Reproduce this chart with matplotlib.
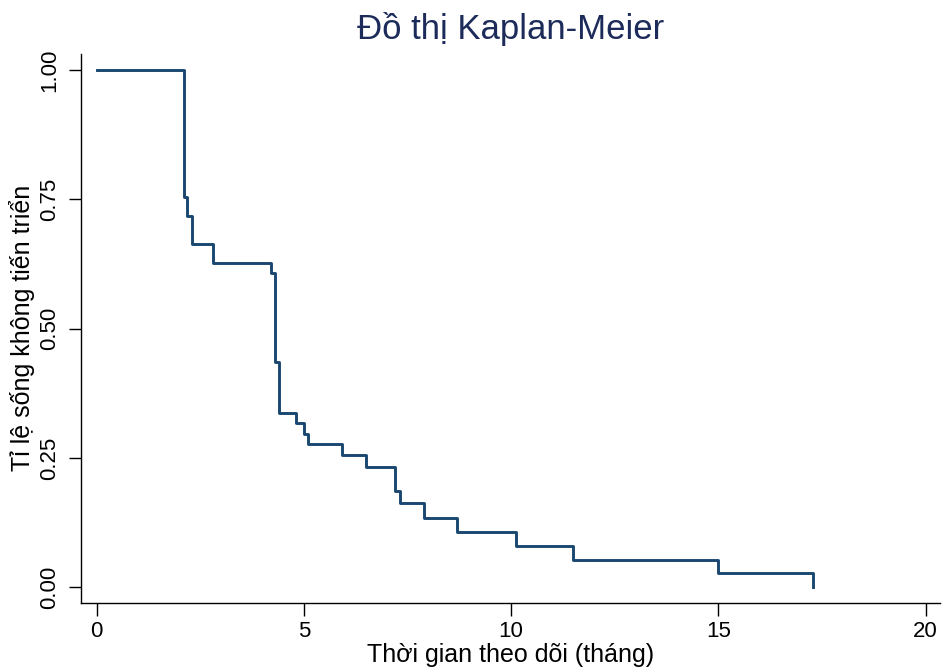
import matplotlib.pyplot as plt

plt.rcParams['font.family'] = ['Liberation Sans', 'DejaVu Sans']

# thoi gian (thang) va ti le song khong tien trien, doc tu hinh
times = [0, 2.11, 2.19, 2.30, 2.82, 4.20, 4.30, 4.40, 4.81, 5.01, 5.11,
         5.91, 6.51, 7.21, 7.31, 7.90, 8.70, 10.11, 11.50, 15.00, 17.29]
surv = [1.0, 0.755, 0.718, 0.663, 0.626, 0.607, 0.436, 0.3375, 0.317, 0.297, 0.277,
        0.255, 0.232, 0.185, 0.162, 0.1345, 0.1075, 0.080, 0.053, 0.0276, 0.0]

xticks = [0, 5, 10, 15, 20]
yticks = [0.0, 0.25, 0.50, 0.75, 1.0]
yticklabels = ['0.00', '0.25', '0.50', '0.75', '1.00']

fig = plt.figure(figsize=(9.42, 6.68), dpi=100)
ax = fig.add_axes([0.086, 0.098, 0.912, 0.821])

ax.step(times, surv, where='post', color='#1a476f', linewidth=2.1)

ax.set_xlim(-0.374, 20.35)
ax.set_ylim(-0.0298, 1.031)
ax.set_xticks(xticks)
ax.set_yticks(yticks)
ax.set_yticklabels(yticklabels, rotation=90, va='center')

ax.spines['top'].set_visible(False)
ax.spines['right'].set_visible(False)
for s in ['left', 'bottom']:
    ax.spines[s].set_linewidth(1.0)
ax.tick_params(axis='both', direction='out', length=9, width=1.0, labelsize=16)
ax.tick_params(axis='x', pad=4)
ax.tick_params(axis='y', pad=6)

ax.set_xlabel('Thời gian theo dõi (tháng)', fontsize=18, labelpad=1)
ax.set_ylabel('Tỉ lệ sống không tiến triển', fontsize=18, labelpad=3)
ax.set_title('Đồ thị Kaplan-Meier', fontsize=25, color='#1c2b5a', pad=11)

fig.savefig('out.png', dpi=100)
